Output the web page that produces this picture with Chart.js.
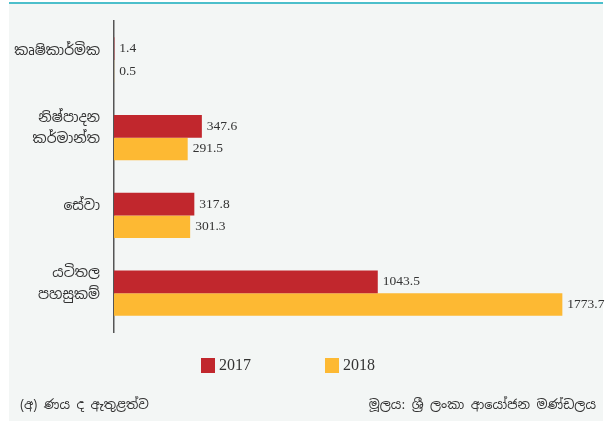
<!DOCTYPE html>
<html>
<head>
<meta charset="utf-8">
<script src="https://cdn.jsdelivr.net/npm/chart.js@4.4.0/dist/chart.umd.min.js"></script>
<style>
  html, body { margin: 0; padding: 0; background: #ffffff; }
  #wrap { width: 608px; height: 421px; }
</style>
</head>
<body>
<div id="wrap"><canvas id="myBarChart" width="608" height="421"></canvas></div>
<script>
// -- data
var categories = [["කෘෂිකාර්මික"], ["නිෂ්පාදන", "කර්මාන්ත"], ["සේවා"], ["යටිතල", "පහසුකම්"]];
var values2017 = [1.4, 347.6, 317.8, 1043.5];
var values2018 = [0.5, 291.5, 301.3, 1773.7];
var seriesNames = ["2017", "2018"];
var seriesColors = ["#c1272d", "#fdb933"];
var noteLeft = "(අ) ණය ද ඇතුළත්ව";
var noteRight = "මූලය: ශ්‍රී ලංකා ආයෝජන මණ්ඩලය";

var sinhalaFont = "'Noto Sans Sinhala', 'Iskoola Pota', 'Noto Sans', sans-serif";
var serifFont = "'Liberation Serif', 'Times New Roman', serif";

// panel background + teal top line + footer notes
var panelPlugin = {
  id: 'panel',
  beforeDraw: function (chart) {
    var c = chart.ctx;
    c.save();
    c.fillStyle = '#ffffff';
    c.fillRect(0, 0, chart.width, chart.height);
    c.fillStyle = '#f3f6f5';
    c.fillRect(9, 3, 594, chart.height - 3);
    c.fillStyle = '#4cbfcb';
    c.fillRect(9, 2, 594, 2);
    c.restore();
  },
  afterDraw: function (chart) {
    var c = chart.ctx;
    c.save();
    c.fillStyle = '#333333';
    c.font = '13px ' + sinhalaFont;
    c.textBaseline = 'middle';
    c.textAlign = 'left';
    c.fillText(noteLeft, 20, 405);
    c.textAlign = 'right';
    c.fillText(noteRight, 596, 405);
    c.restore();
  }
};

// value labels at bar ends
var valueLabels = {
  id: 'valueLabels',
  afterDatasetsDraw: function (chart) {
    var c = chart.ctx;
    c.save();
    c.font = '13.5px ' + serifFont;
    c.fillStyle = '#333333';
    c.textBaseline = 'middle';
    c.textAlign = 'left';
    chart.data.datasets.forEach(function (ds, i) {
      chart.getDatasetMeta(i).data.forEach(function (bar, j) {
        c.fillText(ds.data[j].toFixed(1), bar.x + 5, bar.y);
      });
    });
    c.restore();
  }
};

// legend centred under the plot
var bottomLegend = {
  id: 'bottomLegend',
  afterDraw: function (chart) {
    var c = chart.ctx;
    var starts = [201, 325];
    c.save();
    c.font = '16px ' + serifFont;
    c.textBaseline = 'middle';
    c.textAlign = 'left';
    chart.data.datasets.forEach(function (ds, i) {
      c.fillStyle = ds.backgroundColor;
      c.fillRect(starts[i], 358, 14, 15);
      c.fillStyle = '#333333';
      c.fillText(ds.label, starts[i] + 18, 366);
    });
    c.restore();
  }
};

var ctx = document.getElementById("myBarChart");
var myBarChart = new Chart(ctx, {
  type: 'bar',
  data: {
    labels: categories,
    datasets: [{
      label: seriesNames[0],
      data: values2017,
      backgroundColor: seriesColors[0],
      categoryPercentage: 0.58,
      barPercentage: 1.0
    }, {
      label: seriesNames[1],
      data: values2018,
      backgroundColor: seriesColors[1],
      categoryPercentage: 0.58,
      barPercentage: 1.0
    }],
  },
  options: {
    indexAxis: 'y',
    responsive: false,
    animation: false,
    layout: { padding: { left: 0, right: 39, top: 21, bottom: 89 } },
    plugins: {
      legend: { display: false },
      tooltip: { enabled: false }
    },
    scales: {
      x: {
        display: false,
        min: 0,
        max: 1800
      },
      y: {
        grid: { display: false, drawTicks: false },
        border: { display: true, color: '#555555', width: 1.5 },
        ticks: {
          color: '#333333',
          padding: 14,
          labelOffset: -9,
          font: { family: sinhalaFont, size: 14, lineHeight: 1.55 }
        },
        afterFit: function (scale) {
          scale.width = 114;
          scale.paddingTop = 0;
          scale.paddingBottom = 0;
        }
      }
    }
  },
  plugins: [panelPlugin, valueLabels, bottomLegend]
});
</script>
</body>
</html>
